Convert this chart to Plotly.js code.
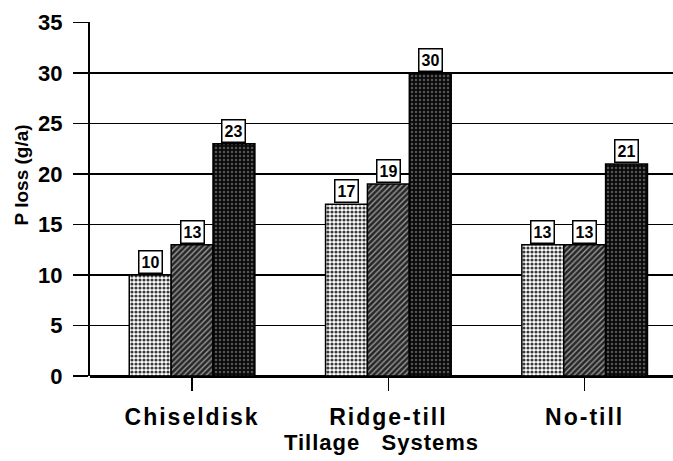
<!DOCTYPE html>
<html>
<head>
<meta charset="utf-8">
<script src="https://cdn.plot.ly/plotly-3.0.1.min.js"></script>
<style>
html,body{margin:0;padding:0;background:#fff;}
#chart{width:673px;height:461px;}
.xtick text{letter-spacing:2px;}
.g-xtitle text{letter-spacing:1px;}
</style>
</head>
<body>
<div id="chart"></div>
<script>
const categories = ["Chiseldisk", "Ridge-till", "No-till"];
const series1 = [10, 17, 13];
const series2 = [13, 19, 13];
const series3 = [23, 30, 21];
const yTicks = [0, 5, 10, 15, 20, 25, 30, 35];

const FONT = "Liberation Sans, Arial, Helvetica, sans-serif";
const seriesList = [series1, series2, series3];
const patterns = [
  {bg: "#ffffff", fg: "#3a3a3a", shape: ".", size: 4, solidity: 0.5},
  {bg: "#262626", fg: "#9a9a9a", shape: "/", size: 4, solidity: 0.35},
  {bg: "#0a0a0a", fg: "#555555", shape: ".", size: 4, solidity: 0.3}
];
const bargap = 0.36;

const traces = seriesList.map((vals, i) => ({
  type: "bar",
  x: categories,
  y: vals,
  marker: {
    color: patterns[i].bg,
    line: {color: "#000", width: 1.5},
    pattern: {shape: patterns[i].shape, bgcolor: patterns[i].bg, fgcolor: patterns[i].fg,
              size: patterns[i].size, solidity: patterns[i].solidity, fillmode: "replace"}
  },
  hoverinfo: "skip",
  showlegend: false
}));

const barW = (1 - bargap) / seriesList.length;
const annotations = [];
seriesList.forEach((vals, i) => {
  vals.forEach((v, j) => {
    annotations.push({
      x: j + (i - (seriesList.length - 1) / 2) * barW,
      y: v, xref: "x", yref: "y",
      text: String(v), showarrow: false,
      yanchor: "bottom", yshift: 1,
      font: {family: FONT, size: 16, color: "#000", weight: 700},
      bgcolor: "#fff", bordercolor: "#000", borderwidth: 1.5, borderpad: 2
    });
  });
});
annotations.push({
  xref: "paper", yref: "paper", x: -0.139, y: 0.568,
  text: "P loss (g/a)", textangle: -90, showarrow: false,
  font: {family: FONT, size: 19, color: "#000", weight: 700}
});

const layout = {
  width: 673, height: 461,
  margin: {l: 90, r: 0, t: 22, b: 85},
  paper_bgcolor: "#fff", plot_bgcolor: "#fff",
  bargap: bargap, bargroupgap: 0, barmode: "group",
  font: {family: FONT, color: "#000"},
  xaxis: {
    type: "category",
    range: [-0.52, 2.45],
    showgrid: false, zeroline: false,
    showline: false,
    ticks: "outside", ticklen: 14, tickwidth: 1.5, tickcolor: "#000",
    ticklabelstandoff: 6,
    tickfont: {family: FONT, size: 23, weight: 700, color: "#000"},
    title: {text: "Tillage   Systems", font: {family: FONT, size: 22, weight: 700, color: "#000"}, standoff: 5}
  },
  yaxis: {
    range: [0, 35.05],
    tickvals: yTicks,
    showgrid: true, gridcolor: "#000", gridwidth: 1.5,
    zeroline: true, zerolinecolor: "#000", zerolinewidth: 3,
    showline: true, linecolor: "#000", linewidth: 2,
    ticks: "outside", ticklen: 15, tickwidth: 1.5, tickcolor: "#000",
    ticklabelstandoff: 6,
    tickfont: {family: FONT, size: 22, weight: 700, color: "#000"}
  },
  annotations: annotations
};

Plotly.newPlot("chart", traces, layout, {displayModeBar: false, staticPlot: true});
</script>
</body>
</html>
